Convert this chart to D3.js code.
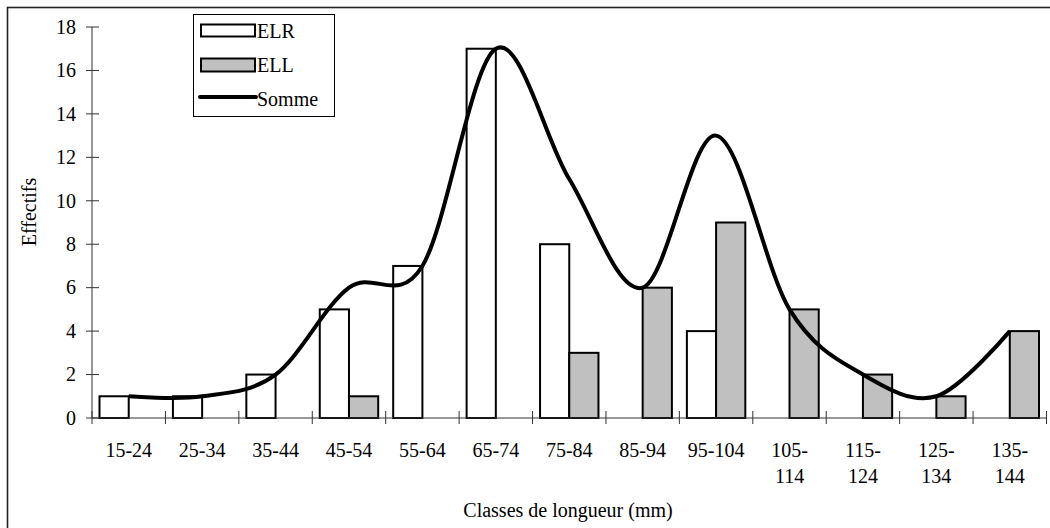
<!DOCTYPE html>
<html>
<head>
<meta charset="utf-8">
<script src="https://cdn.jsdelivr.net/npm/d3@7"></script>
<style>
  html, body { margin: 0; padding: 0; background: #fff; }
  svg { display: block; }
  text { font-family: "Liberation Serif", "Times New Roman", serif; fill: #000; }
</style>
</head>
<body>
<svg id="chart" width="1050" height="528"></svg>
<script>
// Length classes (mm) and counts per group
const classes = ["15-24", "25-34", "35-44", "45-54", "55-64", "65-74", "75-84",
                 "85-94", "95-104", "105-114", "115-124", "125-134", "135-144"];
const elr = [1, 1, 2, 5, 7, 17, 8, 0, 4, 0, 0, 0, 0];
const ell = [0, 0, 0, 1, 0, 0, 3, 6, 9, 5, 2, 1, 4];
const somme = [1, 1, 2, 6, 7, 17, 11, 6, 13, 5, 2, 1, 4];
const yTicks = [0, 2, 4, 6, 8, 10, 12, 14, 16, 18];
const seriesNames = ["ELR", "ELL"];

const svg = d3.select("#chart");

// Outer chart frame
svg.append("rect")
  .attr("x", 7.5).attr("y", 7.5)
  .attr("width", 1100).attr("height", 600)
  .attr("fill", "none").attr("stroke", "#222").attr("stroke-width", 1.6);

const x0 = 92, x1 = 1046.5, yBase = 418, yTop = 27;

const x = d3.scaleBand().domain(classes).range([x0, x1]).padding(0);
const inner = d3.scaleBand().domain(seriesNames)
  .range([7.5, x.bandwidth() - 7.5]).padding(0);
const y = d3.scaleLinear().domain([0, 18]).range([yBase, yTop]);

// Bars
const fills = { ELR: "#ffffff", ELL: "#c0c0c0" };
const rows = [];
classes.forEach((c, i) => {
  rows.push({ c, s: "ELR", v: elr[i] });
  rows.push({ c, s: "ELL", v: ell[i] });
});
svg.append("g").selectAll("rect")
  .data(rows.filter(d => d.v > 0))
  .join("rect")
  .attr("x", d => x(d.c) + inner(d.s))
  .attr("y", d => y(d.v))
  .attr("width", inner.bandwidth())
  .attr("height", d => y(0) - y(d.v))
  .attr("fill", d => fills[d.s])
  .attr("stroke", "#000")
  .attr("stroke-width", 2);

// Y axis
const yAxis = svg.append("g");
yAxis.append("line")
  .attr("x1", x0).attr("x2", x0).attr("y1", y(18)).attr("y2", y(0))
  .attr("stroke", "#333").attr("stroke-width", 1);
yAxis.selectAll("line.tick").data(yTicks).join("line")
  .attr("class", "tick")
  .attr("x1", x0 - 6).attr("x2", x0 + 7)
  .attr("y1", d => y(d)).attr("y2", d => y(d))
  .attr("stroke", "#333").attr("stroke-width", 1);
yAxis.selectAll("text").data(yTicks).join("text")
  .attr("x", 76).attr("y", d => y(d))
  .attr("dy", "0.34em")
  .attr("text-anchor", "end")
  .attr("font-size", 20)
  .text(d => d);

// X axis
const xAxis = svg.append("g");
xAxis.append("line")
  .attr("x1", x0).attr("x2", x1).attr("y1", yBase).attr("y2", yBase)
  .attr("stroke", "#333").attr("stroke-width", 1);
const boundaries = classes.map(c => x(c)).concat([x1]);
xAxis.selectAll("line.tick").data(boundaries).join("line")
  .attr("class", "tick")
  .attr("x1", d => d).attr("x2", d => d)
  .attr("y1", yBase - 7).attr("y2", yBase + 6)
  .attr("stroke", "#333").attr("stroke-width", 1);
const labels = xAxis.selectAll("text").data(classes).join("text")
  .attr("x", d => x(d) + x.bandwidth() / 2)
  .attr("y", 457)
  .attr("text-anchor", "middle")
  .attr("font-size", 20);
labels.each(function (d) {
  const t = d3.select(this);
  if (d.length > 6) {
    const parts = d.split("-");
    t.append("tspan").attr("x", x(d) + x.bandwidth() / 2).text(parts[0] + "-");
    t.append("tspan").attr("x", x(d) + x.bandwidth() / 2).attr("dy", 26).text(parts[1]);
  } else {
    t.text(d);
  }
});

// Smoothed total line
const line = d3.line()
  .x((d, i) => x(classes[i]) + x.bandwidth() / 2)
  .y(d => y(d))
  .curve(d3.curveCatmullRom.alpha(0));
svg.append("path")
  .datum(somme)
  .attr("d", line)
  .attr("fill", "none")
  .attr("stroke", "#000")
  .attr("stroke-width", 4)
  .attr("stroke-linejoin", "round");

// Axis titles
svg.append("text")
  .attr("transform", "translate(36,212) rotate(-90)")
  .attr("text-anchor", "middle")
  .attr("font-size", 20)
  .text("Effectifs");
svg.append("text")
  .attr("x", 568).attr("y", 517)
  .attr("text-anchor", "middle")
  .attr("font-size", 20)
  .text("Classes de longueur (mm)");

// Legend
const lg = svg.append("g");
lg.append("rect")
  .attr("x", 193.5).attr("y", 14.5).attr("width", 141).attr("height", 102)
  .attr("fill", "#fff").attr("stroke", "#000").attr("stroke-width", 1);
lg.append("rect")
  .attr("x", 201).attr("y", 24.5).attr("width", 54).attr("height", 12)
  .attr("fill", fills.ELR).attr("stroke", "#000").attr("stroke-width", 2);
lg.append("rect")
  .attr("x", 201).attr("y", 58.5).attr("width", 54).attr("height", 13)
  .attr("fill", fills.ELL).attr("stroke", "#000").attr("stroke-width", 2);
lg.append("line")
  .attr("x1", 200).attr("x2", 256).attr("y1", 97).attr("y2", 97)
  .attr("stroke", "#000").attr("stroke-width", 4).attr("stroke-linecap", "round");
const legendLabels = ["ELR", "ELL", "Somme"];
const legendY = [38, 72, 106];
lg.selectAll("text.lab").data(legendLabels).join("text")
  .attr("class", "lab")
  .attr("x", 257).attr("y", (d, i) => legendY[i])
  .attr("font-size", 20)
  .text(d => d);
</script>
</body>
</html>
